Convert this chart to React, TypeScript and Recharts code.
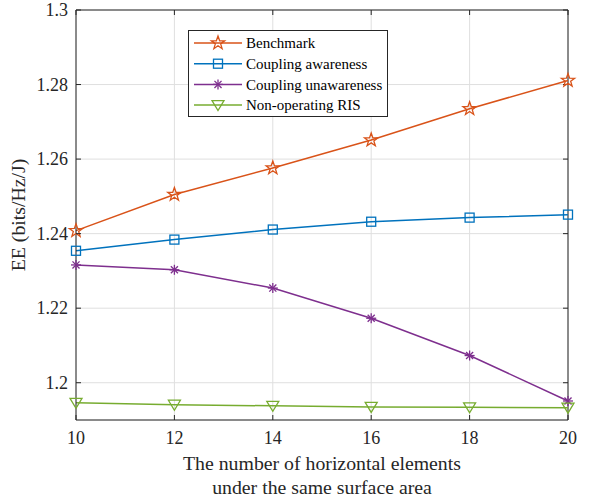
import React from "react";
import {
  LineChart,
  Line,
  XAxis,
  YAxis,
  CartesianGrid,
  ReferenceLine,
  Label,
} from "recharts";

// x: horizontal elements under the same surface area
const elements = [10, 12, 14, 16, 18, 20];
const benchmark = [1.2408, 1.2505, 1.2576, 1.2651, 1.2735, 1.2811];
const couplingAware = [1.2354, 1.2384, 1.2411, 1.2432, 1.2443, 1.2451];
const couplingUnaware = [1.2316, 1.2303, 1.2254, 1.2173, 1.2073, 1.1951];
const nonOperating = [1.1946, 1.1941, 1.1938, 1.1935, 1.1934, 1.1933];
const yTicks = [1.2, 1.22, 1.24, 1.26, 1.28, 1.3];

const X_DOMAIN: [number, number] = [10, 20];
const Y_DOMAIN: [number, number] = [1.19, 1.3];

const data = elements.map((x, i) => ({
  x,
  benchmark: benchmark[i],
  aware: couplingAware[i],
  unaware: couplingUnaware[i],
  nonop: nonOperating[i],
}));

const FONT = '"Liberation Serif", "Times New Roman", serif';
const INK = "#262626";

type MarkerKind = "star" | "square" | "asterisk" | "triangle";

const SERIES: { key: string; name: string; color: string; marker: MarkerKind }[] = [
  { key: "benchmark", name: "Benchmark", color: "#D95319", marker: "star" },
  { key: "aware", name: "Coupling awareness", color: "#0072BD", marker: "square" },
  { key: "unaware", name: "Coupling unawareness", color: "#7E2F8E", marker: "asterisk" },
  { key: "nonop", name: "Non-operating RIS", color: "#77AC30", marker: "triangle" },
];

function starPath(cx: number, cy: number, R: number) {
  const pts: string[] = [];
  for (let i = 0; i < 10; i++) {
    const a = ((-90 + i * 36) * Math.PI) / 180;
    const r = i % 2 === 0 ? R : R * 0.4;
    pts.push(`${cx + r * Math.cos(a)},${cy + r * Math.sin(a)}`);
  }
  return `M${pts.join("L")}Z`;
}

function Marker({ kind, cx, cy, color }: { kind: MarkerKind; cx: number; cy: number; color: string }) {
  const sw = 1.3;
  if (kind === "star")
    return <path d={starPath(cx, cy, 7)} fill="none" stroke={color} strokeWidth={sw} />;
  if (kind === "square")
    return <rect x={cx - 4.5} y={cy - 4.5} width={9} height={9} fill="none" stroke={color} strokeWidth={sw} />;
  if (kind === "triangle")
    return (
      <path
        d={`M${cx - 6},${cy - 4.5}L${cx + 6},${cy - 4.5}L${cx},${cy + 5.5}Z`}
        fill="none"
        stroke={color}
        strokeWidth={sw}
      />
    );
  const r = 5;
  const d = r * 0.707;
  return (
    <g stroke={color} strokeWidth={sw}>
      <line x1={cx - r} y1={cy} x2={cx + r} y2={cy} />
      <line x1={cx} y1={cy - r} x2={cx} y2={cy + r} />
      <line x1={cx - d} y1={cy - d} x2={cx + d} y2={cy + d} />
      <line x1={cx - d} y1={cy + d} x2={cx + d} y2={cy - d} />
    </g>
  );
}

const LeftTick = (props: any) => {
  const { x, y, payload } = props;
  return (
    <g>
      <line x1={x + 8} y1={y} x2={x + 13} y2={y} stroke={INK} />
      <text x={x} y={y} textAnchor="end" dy="0.35em" fontSize={18} fontFamily={FONT} fill={INK}>
        {payload.value}
      </text>
    </g>
  );
};

const BottomTick = (props: any) => {
  const { x, y, payload } = props;
  return (
    <g>
      <line x1={x} y1={y} x2={x} y2={y - 5} stroke={INK} />
      <text x={x} y={y + 11} textAnchor="middle" dy="0.71em" fontSize={18} fontFamily={FONT} fill={INK}>
        {payload.value}
      </text>
    </g>
  );
};

// top border of the box, with inward ticks at the x tick values
const TopBorder = (props: any) => {
  const { x1, x2, y1 } = props;
  const left = Math.min(x1, x2);
  const right = Math.max(x1, x2);
  const px = (v: number) => left + ((v - X_DOMAIN[0]) / (X_DOMAIN[1] - X_DOMAIN[0])) * (right - left);
  return (
    <g stroke={INK}>
      <line x1={left} y1={y1} x2={right} y2={y1} />
      {elements.map((v) => (
        <line key={v} x1={px(v)} y1={y1} x2={px(v)} y2={y1 + 5} />
      ))}
    </g>
  );
};

// right border of the box, with inward ticks at the y tick values
const RightBorder = (props: any) => {
  const { x1, y1, y2 } = props;
  const top = Math.min(y1, y2);
  const bottom = Math.max(y1, y2);
  const py = (v: number) => bottom - ((v - Y_DOMAIN[0]) / (Y_DOMAIN[1] - Y_DOMAIN[0])) * (bottom - top);
  return (
    <g stroke={INK}>
      <line x1={x1} y1={top} x2={x1} y2={bottom} />
      {yTicks.map((v) => (
        <line key={v} x1={x1} y1={py(v)} x2={x1 - 5} y2={py(v)} />
      ))}
    </g>
  );
};

const LegendBox = () => (
  <div
    style={{
      position: "absolute",
      left: 188,
      top: 30,
      width: 200,
      height: 87,
      border: `1px solid ${INK}`,
      background: "#fff",
      boxSizing: "border-box",
    }}
  >
    <svg width={198} height={85} style={{ display: "block" }}>
      {SERIES.map((s, i) => {
        const cy = 12 + i * 20.7;
        return (
          <g key={s.key}>
            <line x1={5} y1={cy} x2={53} y2={cy} stroke={s.color} strokeWidth={1.5} />
            <Marker kind={s.marker} cx={29} cy={cy} color={s.color} />
            <text x={57} y={cy} dy="0.35em" fontSize={15} fontFamily={FONT} fill="#000">
              {s.name}
            </text>
          </g>
        );
      })}
    </svg>
  </div>
);

const XLabel = (props: any) => {
  const { viewBox } = props;
  const cx = viewBox.x + viewBox.width / 2;
  return (
    <text textAnchor="middle" fontSize={19.8} fontFamily={FONT} fill={INK}>
      <tspan x={cx} y={470}>The number of horizontal elements</tspan>
      <tspan x={cx} y={494}>under the same surface area</tspan>
    </text>
  );
};

export default function App() {
  return (
    <div style={{ position: "absolute", left: 0, top: 0, width: 613, height: 499, background: "#fff" }}>
      <LineChart width={613} height={499} data={data} margin={{ top: 10, right: 45, bottom: 0, left: 0 }}>
        <CartesianGrid stroke="#dfdfdf" strokeWidth={1} />
        <XAxis
          dataKey="x"
          type="number"
          domain={X_DOMAIN}
          ticks={elements}
          height={79}
          axisLine={{ stroke: INK }}
          tickLine={false}
          tickSize={0}
          tickMargin={0}
          tick={<BottomTick />}
        >
          <Label content={<XLabel />} />
        </XAxis>
        <YAxis
          type="number"
          domain={Y_DOMAIN}
          ticks={yTicks}
          width={76}
          axisLine={{ stroke: INK }}
          tickLine={false}
          tickSize={0}
          tickMargin={8}
          tick={<LeftTick />}
        >
          <Label
            value="EE (bits/Hz/J)"
            angle={-90}
            position="insideLeft"
            offset={0}
            dx={18}
            style={{ fontSize: 19.8, fontFamily: FONT, fill: INK, textAnchor: "middle" }}
          />
        </YAxis>
        <ReferenceLine y={Y_DOMAIN[1]} shape={<TopBorder />} />
        <ReferenceLine x={X_DOMAIN[1]} shape={<RightBorder />} />
        {SERIES.map((s) => (
          <Line
            key={s.key}
            dataKey={s.key}
            name={s.name}
            stroke={s.color}
            strokeWidth={1.5}
            isAnimationActive={false}
            dot={(p: any) => <Marker key={`${s.key}-${p.index}`} kind={s.marker} cx={p.cx} cy={p.cy} color={s.color} />}
          />
        ))}
      </LineChart>
      <LegendBox />
    </div>
  );
}
